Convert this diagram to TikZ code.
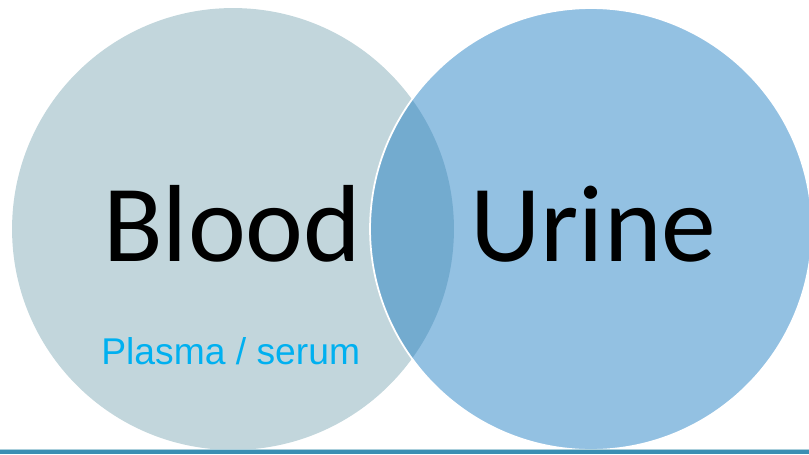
\documentclass[tikz,border=0pt]{standalone}
\usepackage{fontspec}
\setmainfont{Carlito}
\newfontfamily\arialfont{Liberation Sans}
\usepackage{tikz}
\usetikzlibrary{positioning}
\usepackage{xcolor}

\definecolor{bloodgray}{RGB}{194,214,220}
\definecolor{urineblue}{RGB}{28,124,194}
\definecolor{plasmacyan}{RGB}{0,176,240}
\definecolor{rulebar}{RGB}{58,143,179}
\definecolor{rulelight}{RGB}{170,207,220}

\begin{document}
\begin{tikzpicture}[
    x=0.02cm, y=-0.02cm,
    set/.style={circle, minimum size=8.84cm, inner sep=0pt},
    bigword/.style={inner sep=0pt, anchor=base west, font=\fontsize{62.4}{62.4}\selectfont},
    subword/.style={inner sep=0pt, anchor=base west, text=plasmacyan, font=\arialfont\fontsize{21.2}{21.2}\selectfont}
]
    \useasboundingbox (0,0) rectangle (809,454);

    % Sets
    \node[set, fill=bloodgray] (blood) at (233,229) {};
    \node[set, fill=urineblue, fill opacity=0.475, draw=white, line width=1pt] (urine) at (591,229) {};

    % Labels
    \node[bigword] (bloodlabel) at (103,261) {Blood};
    \node[bigword] (urinelabel) at (470,261) {Urine};
    \node[subword] (plasma) at (101,364) {Plasma / serum};

    % Bottom rule
    \fill[rulelight] (0,448.5) rectangle (809,450);
    \fill[rulebar] (0,450) rectangle (809,454);
\end{tikzpicture}
\end{document}
